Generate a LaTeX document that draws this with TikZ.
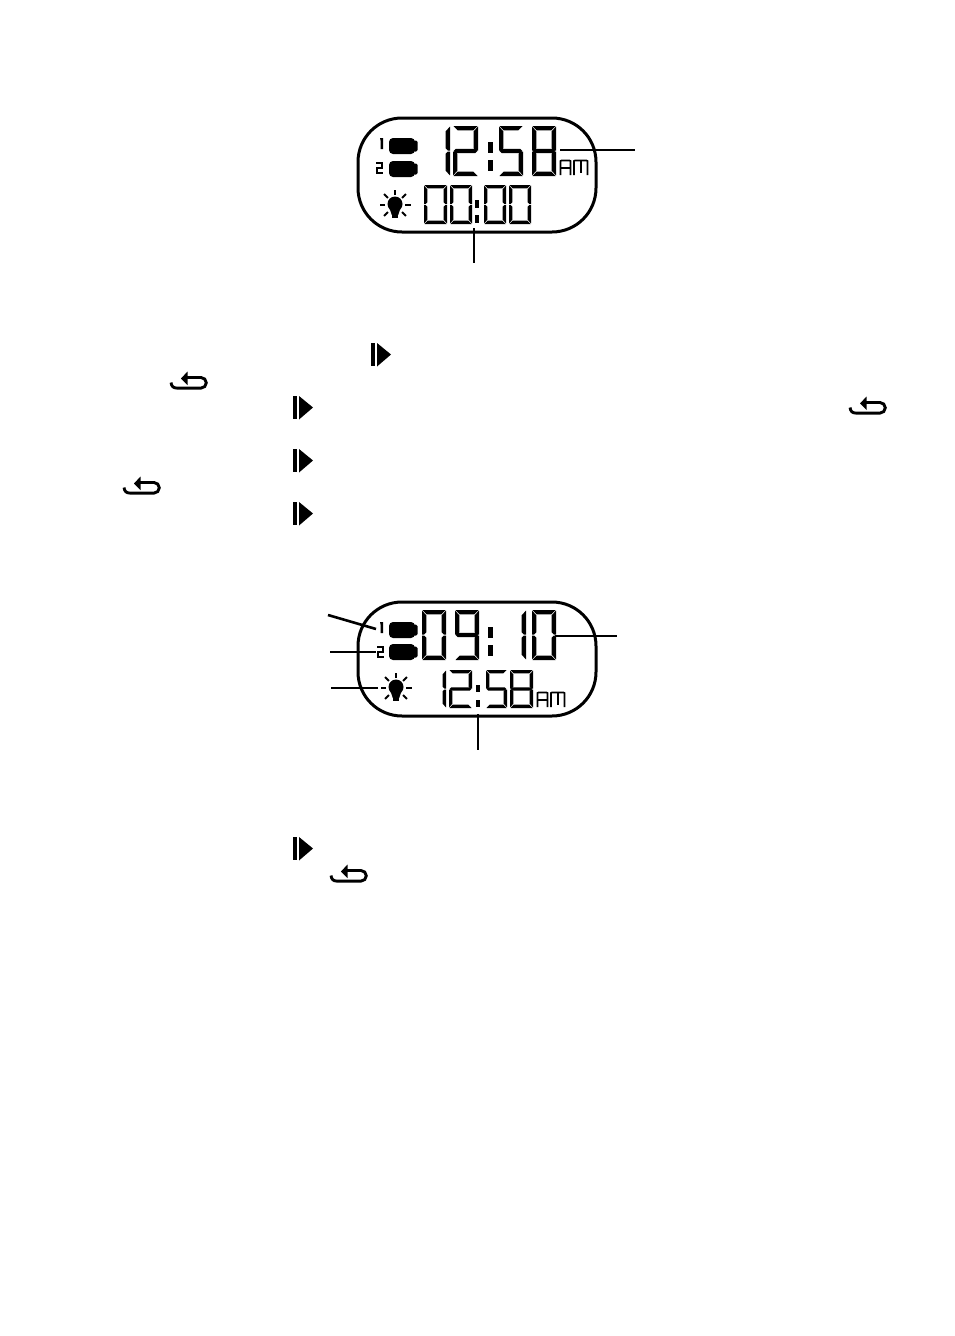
\documentclass[tikz,border=0pt]{standalone}
\usepackage{tikz}

% segments of one LCD digit, drawn in a box \dw x \dh with thickness \dt
\newcommand{\lcdseg}[1]{%
	\ifcase#1\relax
	\fill (0.5,0) -- (\dw-0.5,0) -- (\dw-\dt-0.3,\dt) -- (\dt+0.3,\dt) -- cycle;% top
	\or
	\fill (\dw,0.6) -- (\dw,\dh/2-0.5) -- (\dw-\dt/2,\dh/2-0.5) -- (\dw-\dt,\dh/2-\dt/2-0.5) -- (\dw-\dt,\dt+0.9) -- cycle;% upper right
	\or
	\fill (\dw,\dh/2+0.5) -- (\dw,\dh-0.6) -- (\dw-\dt,\dh-\dt-0.9) -- (\dw-\dt,\dh/2+\dt/2+0.5) -- (\dw-\dt/2,\dh/2+0.5) -- cycle;% lower right
	\or
	\fill (0.5,\dh) -- (\dw-0.5,\dh) -- (\dw-\dt-0.3,\dh-\dt) -- (\dt+0.3,\dh-\dt) -- cycle;% bottom
	\or
	\fill (0,\dh/2+0.5) -- (0,\dh-0.6) -- (\dt,\dh-\dt-0.9) -- (\dt,\dh/2+\dt/2+0.5) -- (\dt/2,\dh/2+0.5) -- cycle;% lower left
	\or
	\fill (0,0.6) -- (0,\dh/2-0.5) -- (\dt/2,\dh/2-0.5) -- (\dt,\dh/2-\dt/2-0.5) -- (\dt,\dt+0.9) -- cycle;% upper left
	\or
	\fill (\dt/2+0.6,\dh/2-\dt/2) -- (\dw-\dt/2-0.6,\dh/2-\dt/2) -- (\dw-0.7,\dh/2) -- (\dw-\dt/2-0.6,\dh/2+\dt/2) -- (\dt/2+0.6,\dh/2+\dt/2) -- (0.7,\dh/2) -- cycle;% middle
	\fi}
% #1 left, #2 top, #3 width, #4 height, #5 list of segments
\newcommand{\lcddigit}[5]{%
	\begin{scope}[shift={(#1,#2)}]
		\def\dw{#3}\def\dh{#4}\pgfmathsetmacro{\dt}{#4*0.088}
		\foreach \s in #5 {\lcdseg{\s}}
	\end{scope}}
\newcommand{\digzero}{0,1,2,3,4,5}
\newcommand{\digone}{1,2}
\newcommand{\digtwo}{0,1,6,4,3}
\newcommand{\digfive}{0,5,6,2,3}
\newcommand{\digeight}{0,1,2,3,4,5,6}
\newcommand{\dignine}{0,1,2,3,5,6}

% two dots of a colon
\newcommand{\lcdcolon}[5]{%
	\fill (#1,#2) rectangle (#1+#3,#2+#4);
	\fill (#1,#2+#5) rectangle (#1+#3,#2+#4+#5);}

% AM, small digits made of thin lines
\newcommand{\lcdam}[2]{%
	\begin{scope}[shift={(#1,#2)}]
		\draw[amline] (0.5,15) -- (0.5,1) -- (1.5,0.5) -- (9.5,0.5) -- (10.5,1) -- (10.5,15);
		\draw[amline] (1,8) -- (10,8);
		\draw[amline] (14,15) -- (14,1) -- (15,0.5) -- (26.5,0.5) -- (27.5,1) -- (27.5,15);
		\draw[amline] (20.7,1) -- (20.7,13);
	\end{scope}}

\newcommand{\lcdbattery}[2]{%
	\fill[rounded corners=4pt] (#1,#2) rectangle (#1+26,#2+16);
	\fill[rounded corners=1.5pt] (#1+24,#2+2.5) rectangle (#1+28.5,#2+13.5);}

\newcommand{\smallone}[2]{\fill (#1+1,#2) -- (#1+4,#2) -- (#1+4,#2+11) -- (#1+1.5,#2+11) -- (#1+1.5,#2+2.5) -- cycle;}
\newcommand{\smalltwo}[2]{\draw[line width=1.6pt] (#1,#2+0.8) -- (#1+6.2,#2+0.8) -- (#1+6.2,#2+5.8) -- (#1+0.8,#2+5.8) -- (#1+0.8,#2+11.2) -- (#1+6.6,#2+11.2);}

% bulb with its rays
\newcommand{\lcdbulb}[2]{%
	\begin{scope}[shift={(#1,#2)}]
		\fill (0,-1) circle (7.5);
		\fill (-5.5,3) -- (5.5,3) -- (3.2,10) -- (-3.2,10) -- cycle;
		\fill (-2.8,10) rectangle (2.8,12.5);
		\foreach \a in {0,45,135,180,225,270,315} \draw[ray] (\a:10) -- (\a:15.5);
	\end{scope}}

% the two button marks
\newcommand{\nextmark}[2]{%
	\fill (#1,#2) rectangle (#1+4.2,#2+23);
	\fill (#1+6,#2) -- (#1+20,#2+11.5) -- (#1+6,#2+23.5) -- cycle;}
\newcommand{\backmark}[2]{%
	\begin{scope}[shift={(#1,#2)}]
		\fill (11,7.5) -- (17.5,0.5) -- (17.5,14) -- cycle;
		\draw[backline] (16,6.5) -- (31,6.5) arc (-90:90:5.3) -- (7,17.1) .. controls (3,17.1) and (1.5,15) .. (1,11.5);
	\end{scope}}

\begin{document}
\begin{tikzpicture}[x=1pt, y=-1pt,
		frame/.style={line width=3pt, rounded corners=44pt},
		leader/.style={line width=2.6pt},
		amline/.style={line width=1.6pt},
		ray/.style={line width=2pt},
		backline/.style={line width=2.9pt}]
	\useasboundingbox (0,0) rectangle (954,1336);
	
	% upper display
	\draw[frame] (358,118) rectangle (596,232);
	\lcddigit{442}{126}{8}{50}{\digone}
	\lcddigit{453}{126}{25}{50}{\digtwo}
	\lcdcolon{488}{142}{4.5}{11}{18}
	\lcddigit{499}{126}{24}{50}{\digfive}
	\lcddigit{532}{126}{24}{50}{\digeight}
	\lcdam{560}{160}
	\lcdbattery{389}{138}
	\lcdbattery{389}{161}
	\smallone{379}{138}
	\smalltwo{376}{162}
	\lcdbulb{395}{205}
	\lcddigit{424}{185}{23}{39}{\digzero}
	\lcddigit{450}{185}{22}{39}{\digzero}
	\lcdcolon{474.5}{200}{4.5}{8}{15}
	\lcddigit{484}{185}{22}{39}{\digzero}
	\lcddigit{509}{185}{22}{39}{\digzero}
	
	\coordinate (clockend) at (560,150);
	\coordinate (clocklabel) at (635,150);
	\coordinate (timerend) at (474,228);
	\coordinate (timerlabel) at (474,263);
	\draw[leader] (clockend) -- (clocklabel);
	\draw[leader] (timerend) -- (timerlabel);
	
	% marks of the steps
	\nextmark{371}{343}
	\backmark{170}{371}
	\nextmark{293}{396}
	\backmark{849}{396}
	\nextmark{293}{449}
	\backmark{123}{476}
	\nextmark{293}{502}
	
	% lower display
	\draw[frame] (358,602) rectangle (596,716);
	\lcdbattery{389}{622}
	\lcdbattery{389}{644}
	\smallone{379}{622}
	\smalltwo{377}{646}
	\lcddigit{422}{610}{24}{50}{\digzero}
	\lcddigit{455}{610}{24}{50}{\dignine}
	\lcdcolon{488}{627}{4.5}{11}{18}
	\lcddigit{518}{610}{8}{50}{\digone}
	\lcddigit{532}{610}{24}{50}{\digzero}
	\lcdbulb{396}{688}
	\lcddigit{440}{670}{6}{38}{\digone}
	\lcddigit{449}{670}{23}{38}{\digtwo}
	\lcdcolon{475.5}{685}{4.5}{7}{15}
	\lcddigit{486}{670}{21}{38}{\digfive}
	\lcddigit{510}{670}{23}{38}{\digeight}
	\lcdam{537}{692}
	
	\coordinate (oneend) at (376,629);
	\coordinate (onelabel) at (328,615);
	\coordinate (twoend) at (376,652);
	\coordinate (twolabel) at (330,652);
	\coordinate (lightend) at (378,688);
	\coordinate (lightlabel) at (331,688);
	\coordinate (bigend) at (555,636);
	\coordinate (biglabel) at (617,636);
	\coordinate (smallend) at (478,714);
	\coordinate (smalllabel) at (478,750);
	\draw[leader] (oneend) -- (onelabel);
	\draw[leader] (twoend) -- (twolabel);
	\draw[leader] (lightend) -- (lightlabel);
	\draw[leader] (bigend) -- (biglabel);
	\draw[leader] (smallend) -- (smalllabel);
	
	\nextmark{293}{837}
	\backmark{330}{864}
\end{tikzpicture}
\end{document}
